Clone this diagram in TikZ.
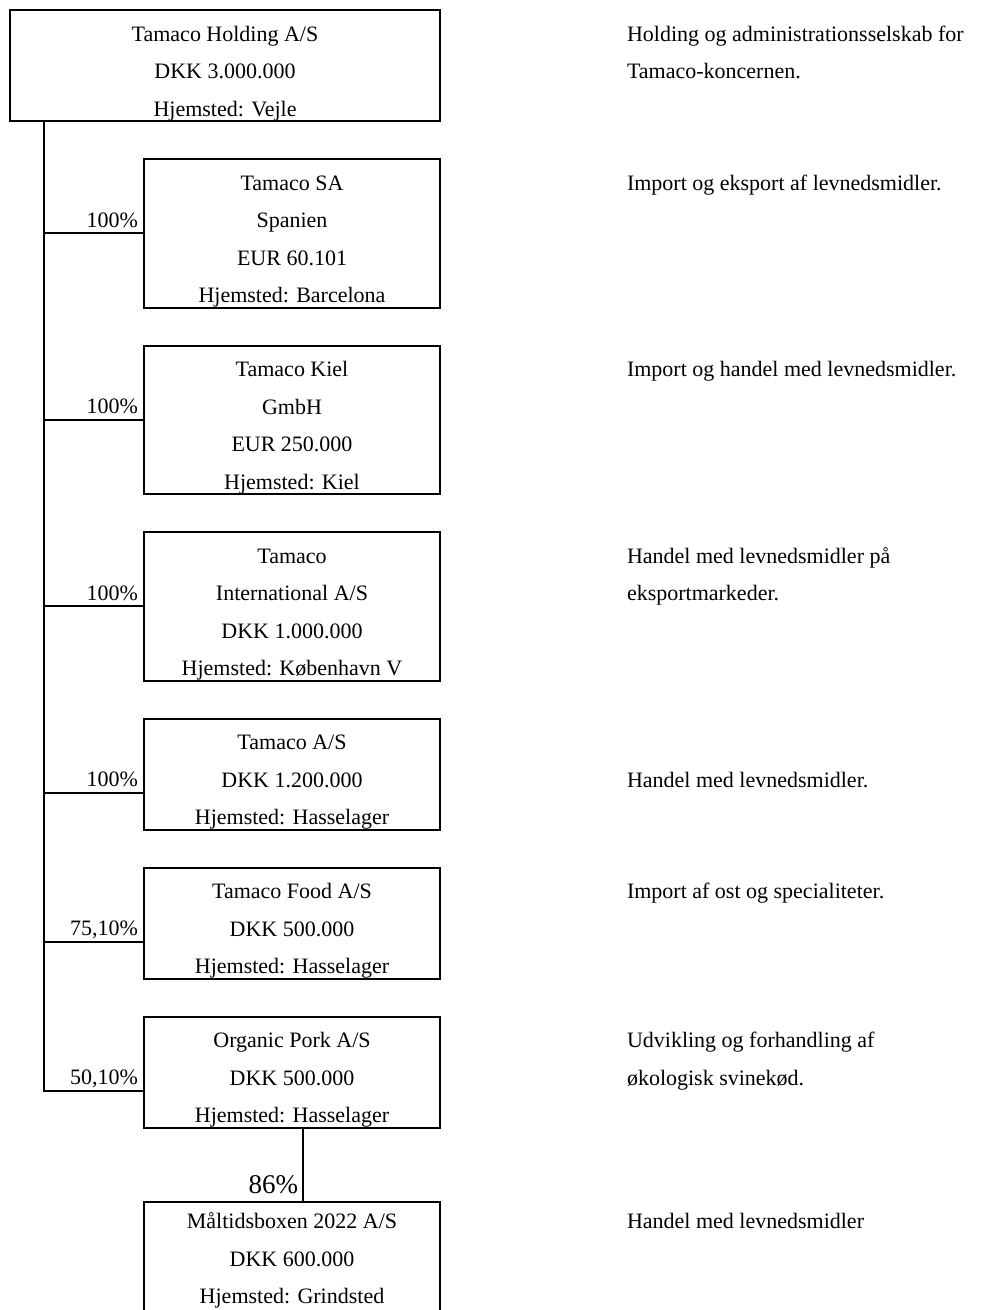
\documentclass[tikz,border=0pt]{standalone}
\usepackage{fontspec}
\setmainfont{Liberation Serif}
\usetikzlibrary{positioning}
\newcommand{\topgap}[1][31pt]{\rule{0pt}{#1}}
\newcommand{\botgap}[1][5pt]{\rule[-#1]{0pt}{#1}}

\begin{document}
\begin{tikzpicture}
    [x=1pt,y=-1pt,line width=2pt,
     every node/.style={inner sep=0pt,outer sep=0pt,font=\fontsize{22}{37.5}\selectfont},
     firm/.style={draw,align=center,minimum width=296pt,anchor=north},
     info/.style={align=left,anchor=north west},
     pct/.style={anchor=base east}]
    \useasboundingbox (0,0) rectangle (989,1310);
    \clip (0,0) rectangle (989,1310);
    % companies
    \node[firm,minimum width=430pt,anchor=north west] (hold) at (10,10) {\topgap Tamaco Holding A/S\\DKK 3.000.000\\Hjemsted: Vejle\botgap};
    \node[firm,anchor=north west] (sa) at (144,159) {\topgap Tamaco SA\\Spanien\\EUR 60.101\\Hjemsted: Barcelona\botgap};
    \node[firm,below=38pt of sa] (kiel) {\topgap Tamaco Kiel\\GmbH\\EUR 250.000\\Hjemsted: Kiel\botgap};
    \node[firm,below=38pt of kiel] (intl) {\topgap Tamaco\\International A/S\\DKK 1.000.000\\Hjemsted: København V\botgap};
    \node[firm,below=38pt of intl] (dk) {\topgap Tamaco A/S\\DKK 1.200.000\\Hjemsted: Hasselager\botgap};
    \node[firm,below=38pt of dk] (food) {\topgap Tamaco Food A/S\\DKK 500.000\\Hjemsted: Hasselager\botgap};
    \node[firm,below=38pt of food] (pork) {\topgap Organic Pork A/S\\DKK 500.000\\Hjemsted: Hasselager\botgap};
    \node[firm,below=74pt of pork] (box) {\topgap[27pt]Måltidsboxen 2022 A/S\\DKK 600.000\\Hjemsted: Grindsted\botgap[10pt]};
    % ownership lines
    \coordinate (trunk) at ([xshift=34pt]hold.south west);
    \coordinate (csa) at ([yshift=-74pt]sa.north west);
    \coordinate (ckiel) at ([yshift=-74pt]kiel.north west);
    \coordinate (cintl) at ([yshift=-74pt]intl.north west);
    \coordinate (cdk) at ([yshift=-74pt]dk.north west);
    \coordinate (cfood) at ([yshift=-74pt]food.north west);
    \coordinate (cpork) at ([yshift=-74pt]pork.north west);
    \draw (trunk) |- (cpork);
    \draw (csa -| trunk) -- (csa);
    \draw (ckiel -| trunk) -- (ckiel);
    \draw (cintl -| trunk) -- (cintl);
    \draw (cdk -| trunk) -- (cdk);
    \draw (cfood -| trunk) -- (cfood);
    \node[pct] (psa) at ([shift={(-6pt,6pt)}]csa) {100\%};
    \node[pct] (pkiel) at ([shift={(-6pt,6pt)}]ckiel) {100\%};
    \node[pct] (pintl) at ([shift={(-6pt,6pt)}]cintl) {100\%};
    \node[pct] (pdk) at ([shift={(-6pt,6pt)}]cdk) {100\%};
    \node[pct] (pfood) at ([shift={(-6pt,6pt)}]cfood) {75,10\%};
    \node[pct] (ppork) at ([shift={(-6pt,6pt)}]cpork) {50,10\%};
    \coordinate (down) at ([xshift=159pt]pork.south west);
    \coordinate (cbox) at (down |- box.north);
    \draw (down) -- (cbox);
    \node[pct,font=\fontsize{27}{30}\selectfont] (pbox) at ([shift={(-5pt,8pt)}]cbox) {86\%};
    % activities
    \node[info] (dhold) at ([xshift=187pt]hold.north east) {\topgap Holding og administrationsselskab for\\Tamaco-koncernen.};
    \node[info] (dsa) at ([xshift=187pt]sa.north east) {\topgap Import og eksport af levnedsmidler.};
    \node[info] (dkiel) at ([xshift=187pt]kiel.north east) {\topgap Import og handel med levnedsmidler.};
    \node[info] (dintl) at ([xshift=187pt]intl.north east) {\topgap Handel med levnedsmidler på\\eksportmarkeder.};
    \node[info] (ddk) at ([shift={(187pt,-37.5pt)}]dk.north east) {\topgap Handel med levnedsmidler.};
    \node[info] (dfood) at ([xshift=187pt]food.north east) {\topgap Import af ost og specialiteter.};
    \node[info] (dpork) at ([xshift=187pt]pork.north east) {\topgap Udvikling og forhandling af\\økologisk svinekød.};
    \node[info] (dbox) at ([xshift=187pt]box.north east) {\topgap[27pt]Handel med levnedsmidler};
\end{tikzpicture}
\end{document}
